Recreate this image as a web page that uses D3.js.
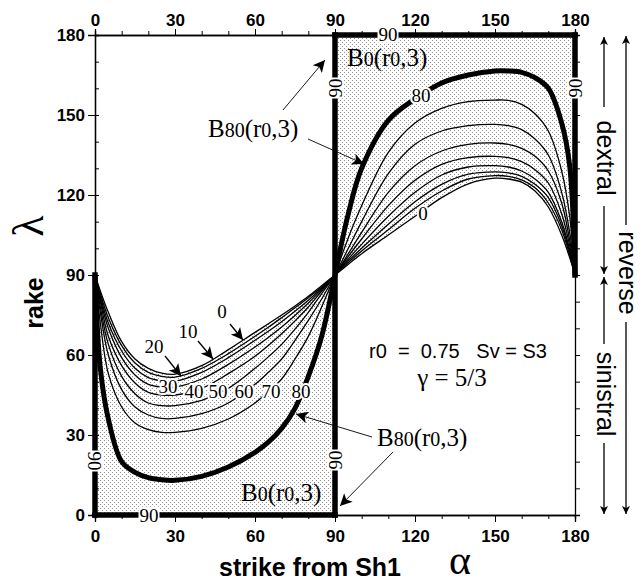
<!DOCTYPE html>
<html><head><meta charset="utf-8">
<script src="https://cdn.jsdelivr.net/npm/d3@7"></script>
<style>body{margin:0;background:#fff}svg{display:block}</style>
</head><body><svg id="c" width="642" height="585"></svg>
<script>
// ---- data ----
const contourLevels = [0, 10, 20, 30, 40, 50, 60, 70, 80];
const alphaLeft  = [0, 2, 5, 10, 15, 20, 25, 30, 40, 50, 60, 65, 70, 75, 80, 85, 90];
const alphaRight = [90, 95, 100, 110, 120, 130, 140, 150, 155, 160, 165, 170, 175, 178, 180];
const left0  = [90, 84, 76, 65, 58.5, 55, 53.2, 52.8, 56, 62, 68.5, 71.7, 75, 78.4, 82, 86, 90];
const left10 = [90, 83, 74, 63.5, 57, 53.5, 52, 51.7, 55, 60.5, 67, 70.4, 74, 77.7, 81.5, 85.5, 90];
const left20 = [90, 82, 72, 61.5, 55, 51.5, 50.3, 50.2, 53.5, 59, 65.5, 68.9, 72.5, 76.4, 80.5, 85, 90];
const left30 = [90, 81, 70, 59, 52.5, 49, 48, 48, 51, 56.5, 63, 66.6, 70.5, 74.8, 79.5, 84.5, 90];
const left40 = [90, 80, 67, 56, 49.5, 46, 45, 45, 47.5, 53, 59.5, 63.6, 68, 72.8, 78, 84, 90];
const left50 = [90, 78, 64, 52, 45.5, 42, 41, 41, 43, 47.5, 55, 59.3, 64, 69.7, 76, 83, 90];
const left60 = [90, 76, 60, 47, 40.5, 37.5, 36.2, 36.2, 38, 42, 49, 53.5, 58.5, 65.5, 73, 81, 90];
const left70 = [90, 72, 53, 40.5, 34.5, 32, 31, 31, 32.5, 36, 42, 46.3, 51, 58.5, 67, 78, 90];
const left80 = [90, 55, 36, 20, 16, 14, 13.2, 13, 14.5, 18, 23.5, 27.3, 32.5, 40, 52, 67, 90];
const right0  = [90, 94, 98, 105, 112, 119, 124.2, 126.3, 126, 124.8, 121.5, 115.5, 105, 96.5, 90];
const right10 = [90, 94.7, 99, 107, 115, 121.5, 126, 127.3, 127, 125.7, 122.7, 117, 107, 97.5, 90];
const right20 = [90, 95.3, 100, 109, 117.5, 124, 127.8, 128.7, 128.3, 127, 124, 119, 108.5, 98.5, 90];
const right30 = [90, 96, 101.5, 112, 121, 127.5, 130.5, 131, 130.5, 129, 126, 121, 110, 99.5, 90];
const right40 = [90, 97, 103.5, 116, 125.5, 131.5, 134, 134.5, 134, 132.5, 129.5, 124.5, 113, 101, 90];
const right50 = [90, 98, 106, 121, 131, 136.5, 139, 139.5, 139, 137.5, 134.5, 129, 117, 103, 90];
const right60 = [90, 100, 110, 128, 139, 144, 146, 146.5, 146, 144.5, 141, 135, 121, 106, 90];
const right70 = [90, 104, 116, 136, 147, 152.5, 155, 155.6, 155.5, 154, 150.5, 144, 129, 112, 90];
const right80 = [90, 113, 130, 148, 156, 162, 165, 166.5, 166.5, 166, 164, 160, 147, 131, 90];
const leftSeries  = [left0, left10, left20, left30, left40, left50, left60, left70, left80];
const rightSeries = [right0, right10, right20, right30, right40, right50, right60, right70, right80];
const xTicks = [0, 30, 60, 90, 120, 150, 180];
const yTicks = [0, 30, 60, 90, 120, 150, 180];

// ---- setup ----
const svg = d3.select('#c');
const W = 642, H = 585;
svg.append('rect').attr('width', W).attr('height', H).attr('fill', '#fff');
const xs = d3.scaleLinear().domain([0, 180]).range([95, 575]);
const ys = d3.scaleLinear().domain([0, 180]).range([515, 35]);
const SANS = "'Liberation Sans', Arial, Helvetica, sans-serif";
const SERIF = "'Liberation Serif', 'Times New Roman', serif";
const CURVE = d3.curveCatmullRom.alpha(0.5);

const defs = svg.append('defs');
const pat = defs.append('pattern').attr('id', 'stip').attr('width', 4).attr('height', 4)
  .attr('patternUnits', 'userSpaceOnUse');
pat.append('rect').attr('width', 4).attr('height', 4).attr('fill', '#fff');
[[0,0],[2,2]].forEach(p => pat.append('rect').attr('x', p[0]).attr('y', p[1])
  .attr('width', 1).attr('height', 1).attr('fill', '#8c8c8c'));

function marker(id, len, wid) {
  defs.append('marker').attr('id', id).attr('viewBox', '0 0 10 10')
    .attr('refX', 10).attr('refY', 5).attr('markerUnits', 'userSpaceOnUse')
    .attr('markerWidth', len).attr('markerHeight', wid).attr('orient', 'auto')
    .append('path').attr('d', 'M0,0 L10,5 L0,10 L2.5,5 Z').attr('fill', '#000');
}
marker('ah', 17, 12);
marker('ahs', 14, 8);

const pts = (al, vals) => al.map((a, i) => [a, vals[i]]);

// ---- shading ----
const areaL = d3.area().x(d => xs(d[0])).y0(ys(0)).y1(d => ys(d[1])).curve(CURVE);
const areaR = d3.area().x(d => xs(d[0])).y0(ys(180)).y1(d => ys(d[1])).curve(CURVE);
svg.append('path').attr('d', areaL(pts(alphaLeft, left0))).attr('fill', 'url(#stip)');
svg.append('path').attr('d', areaR(pts(alphaRight, right0))).attr('fill', 'url(#stip)');

// ---- axes ----
const minor = d3.range(0, 181, 10);
function axis(gen, tr) {
  const g = svg.append('g').attr('transform', tr).call(gen);
  g.select('.domain').attr('stroke-width', 1.3);
  g.selectAll('text').attr('font-family', SANS).attr('font-size', 17).attr('font-weight', 'bold').attr('fill', '#000');
  return g;
}
axis(d3.axisLeft(ys).tickValues(minor).tickSize(-4).tickFormat(''), `translate(${xs(0)},0)`);
axis(d3.axisRight(ys).tickValues(minor).tickSize(5).tickFormat(''), `translate(${xs(180)},0)`);
axis(d3.axisTop(xs).tickValues(minor).tickSize(4).tickFormat(''), `translate(0,${ys(180)})`);
axis(d3.axisBottom(xs).tickValues(minor).tickSize(4).tickFormat(''), `translate(0,${ys(0)})`);
axis(d3.axisLeft(ys).tickValues(yTicks).tickSize(7).tickPadding(3), `translate(${xs(0)},0)`);
axis(d3.axisTop(xs).tickValues(xTicks).tickSize(6).tickPadding(3), `translate(0,${ys(180)})`);
axis(d3.axisBottom(xs).tickValues(xTicks).tickSize(7).tickPadding(8), `translate(0,${ys(0)})`);

// ---- thick B0 boundary ----
const thick = [[[0,0],[0,90]], [[0,0],[90,0]], [[90,0],[90,180]], [[90,180],[180,180]], [[180,180],[180,90]]];
thick.forEach(s => svg.append('line')
  .attr('x1', xs(s[0][0])).attr('y1', ys(s[0][1])).attr('x2', xs(s[1][0])).attr('y2', ys(s[1][1]))
  .attr('stroke', '#000').attr('stroke-width', 5.5).attr('stroke-linecap', 'square'));

// ---- contour curves ----
const line = d3.line().x(d => xs(d[0])).y(d => ys(d[1])).curve(CURVE);
contourLevels.forEach((lv, i) => {
  const w = lv === 80 ? 5 : 1.3;
  svg.append('path').attr('d', line(pts(alphaLeft, leftSeries[i]))).attr('fill', 'none')
    .attr('stroke', '#000').attr('stroke-width', w);
  svg.append('path').attr('d', line(pts(alphaRight, rightSeries[i]))).attr('fill', 'none')
    .attr('stroke', '#000').attr('stroke-width', w);
});

// ---- labels ----
function boxLabel(txt, x, y, rot, size) {
  const g = svg.append('g').attr('transform', `translate(${x},${y}) rotate(${rot})`);
  const t = g.append('text').attr('text-anchor', 'middle').attr('dy', '0.35em')
    .attr('font-family', SERIF).attr('font-size', size).text(txt);
  const b = t.node().getBBox();
  g.insert('rect', 'text').attr('x', b.x - 1).attr('y', b.y + 2).attr('width', b.width + 2)
    .attr('height', b.height - 4).attr('fill', '#fff');
}
function haloLabel(txt, x, y, size) {
  svg.append('text').attr('x', x).attr('y', y).attr('text-anchor', 'middle')
    .attr('font-family', SERIF).attr('font-size', size)
    .attr('stroke', '#fff').attr('stroke-width', 4).attr('paint-order', 'stroke')
    .attr('stroke-linejoin', 'round').attr('fill', '#000').text(txt);
}
boxLabel('90', 388, 34, 0, 19);
boxLabel('90', 149, 515, 0, 19);
boxLabel('90', 95, 461, 90, 19);
boxLabel('90', 335, 460, -90, 19);
boxLabel('90', 335, 88, -90, 19);
boxLabel('90', 575, 88, -90, 19);

const lowLabels = ['30','40','50','60','70','80'];
const lowX = [168, 194, 218, 244, 271, 301];
const lowY = [393, 398, 398, 398, 398, 398];
lowLabels.forEach((l, i) => haloLabel(l, lowX[i], lowY[i], 19));
haloLabel('80', 421, 102, 19);
haloLabel('0', 423, 220, 19);

function arrow(x1, y1, x2, y2, m, w) {
  svg.append('line').attr('x1', x1).attr('y1', y1).attr('x2', x2).attr('y2', y2)
    .attr('stroke', '#000').attr('stroke-width', w || 1).attr('marker-end', `url(#${m})`);
}
const arrowLabels = ['0', '10', '20'];
const arrowLabelX = [222, 188, 154];
const arrowLabelY = [318, 338, 353];
arrowLabels.forEach((l, i) => svg.append('text').attr('x', arrowLabelX[i]).attr('y', arrowLabelY[i])
  .attr('text-anchor', 'middle').attr('font-family', SERIF).attr('font-size', 19).text(l));
arrow(230, 324, 243, 340, 'ah', 1.3);
arrow(198, 341, 213, 359, 'ah', 1.3);
arrow(165, 356, 181, 376, 'ah', 1.3);

function bLabel(x, y, sub) {
  const t = svg.append('text').attr('x', x).attr('y', y).attr('font-family', SERIF).attr('font-size', 25);
  t.append('tspan').text('B');
  t.append('tspan').attr('font-size', 20).text(sub);
  t.append('tspan').text('(r');
  t.append('tspan').attr('font-size', 20).text('0');
  t.append('tspan').text(',3)');
}
bLabel(347, 66, '0');
bLabel(208, 137, '80');
bLabel(377, 446, '80');
bLabel(241, 501, '0');
arrow(283, 110, 325, 60, 'ah', 0.9);
arrow(308, 139, 364, 164, 'ah', 0.9);
arrow(372, 437, 296, 414, 'ah', 0.9);
arrow(393, 452, 340, 506, 'ah', 0.9);

svg.append('text').attr('x', 458).attr('y', 358).attr('text-anchor', 'middle')
  .attr('font-family', SANS).attr('font-size', 20).style('white-space', 'pre')
  .text('r0  =  0.75   Sv = S3');
svg.append('text').attr('x', 452).attr('y', 386).attr('text-anchor', 'middle')
  .attr('font-family', SERIF).attr('font-size', 25).text('γ = 5/3');

svg.append('text').attr('transform', 'translate(43,303) rotate(-90)').attr('text-anchor', 'middle')
  .attr('font-family', SANS).attr('font-weight', 'bold').attr('font-size', 25).text('rake');
svg.append('text').attr('transform', 'translate(43,226) rotate(-90)').attr('text-anchor', 'middle')
  .attr('font-family', SERIF).attr('font-size', 44).text('λ');
svg.append('text').attr('x', 310).attr('y', 576).attr('text-anchor', 'middle')
  .attr('font-family', SANS).attr('font-weight', 'bold').attr('font-size', 25).text('strike from Sh1');
svg.append('text').attr('x', 460).attr('y', 574).attr('text-anchor', 'middle')
  .attr('font-family', SERIF).attr('font-size', 42).text('α');

// baseline-positioned vertical texts (tops face right)
function vText(txt, bx, y) {
  svg.append('text').attr('transform', `translate(${bx},${y}) rotate(90)`).attr('text-anchor', 'middle')
    .attr('font-family', SANS).attr('font-size', 25).text(txt);
}
vText('dextral', 597, 158);
vText('sinistral', 597, 394);
vText('reverse', 619, 273);
arrow(604, 107, 604, 37, 'ahs', 1.3);
arrow(604, 206, 604, 274, 'ahs', 1.3);
arrow(604, 344, 604, 277, 'ahs', 1.3);
arrow(604, 443, 604, 514, 'ahs', 1.3);
arrow(626, 225, 626, 36, 'ahs', 1.3);
arrow(626, 322, 626, 514, 'ahs', 1.3);
</script></body></html>
